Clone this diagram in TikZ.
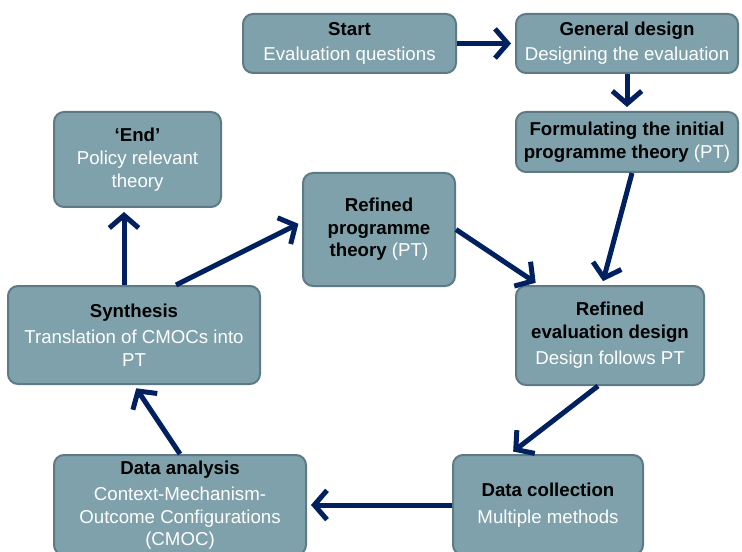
\documentclass[tikz,border=0pt]{standalone}
\usepackage{fontspec}
\setmainfont{Liberation Sans}
\usetikzlibrary{arrows.meta,positioning,calc}
\definecolor{boxfill}{RGB}{127,161,171}
\definecolor{boxline}{RGB}{94,122,132}
\definecolor{arrownavy}{RGB}{0,32,96}
\newcommand{\ttl}[1]{\textcolor{black}{\bfseries #1}}

\begin{document}
\begin{tikzpicture}[x=0.75pt,y=-0.75pt]
 \tikzset{stage node/.style={rectangle, draw=boxline, fill=boxfill,
 		line width=1.5pt, rounded corners=7.5pt, text=white,
 		align=center, inner sep=2pt,
 		font=\fontsize{14}{16.9}\selectfont}, }
 \tikzset{size/.style 2 args={minimum width=#1*0.75pt,
 		minimum height=#2*0.75pt}, }
 \tikzset{linea/.style={-{Straight Barb[length=9.5pt,width=22pt]},
 		draw=arrownavy, line width=3.75pt, shorten >=3pt},}
 \useasboundingbox (0,0) rectangle (742,552);
 \clip (0,0) rectangle (742,552);
 \node[stage node, size={213}{59}] (start) at (349.5,43.5)
 	{\ttl{Start}\\[2pt]Evaluation questions};
 \node[stage node, size={222}{59}] (general) at (627,43.5)
 	{\ttl{General design}\\[2pt]Designing the evaluation};
 \node[stage node, size={222}{60}] (formulating) at (627,142)
 	{\ttl{Formulating the initial}\\\ttl{programme theory} (PT)};
 \node[stage node, size={167}{95}] (end) at (137.5,159.5)
 	{\ttl{`End'}\\[1pt]Policy relevant\\theory};
 \node[stage node, size={152}{113}] (refpt) at (379,229.5)
 	{\ttl{Refined}\\\ttl{programme}\\\ttl{theory} (PT)};
 \node[stage node, size={188}{99}] (evaldesign) at (610,335.5)
 	{\ttl{Refined}\\\ttl{evaluation design}\\[3pt]Design follows PT};
 \node[stage node, size={252}{98}] (synthesis) at (134,335)
 	{\ttl{Synthesis}\\[3pt]Translation of CMOCs into\\PT};
 \node[stage node, size={252}{100}] (analysis) at (180,505)
 	{\ttl{Data analysis}\\[3pt]Context-Mechanism-\\Outcome Configurations\\(CMOC)};
 \node[stage node, size={190}{100}] (collection) at (548,505)
 	{\ttl{Data collection}\\[3pt]Multiple methods};
 % cycle
 \draw[linea] (start) -- (general);
 \draw[linea] (general) -- (formulating);
 \draw[linea] ($(formulating.south)+(5,0)$) -- ($(evaldesign.north)+(-8,0)$);
 \draw[linea] (refpt.east) -- ($(evaldesign.north west)+(24,0)$);
 \draw[linea] ($(evaldesign.south)+(-12,0)$) -- ($(collection.north west)+(58,0)$);
 \draw[linea] (collection) -- (analysis);
 \draw[linea] (analysis.north) -- (synthesis.south);
 \draw[linea] ($(synthesis.north)+(-10,0)$) -- ($(end.south)+(-13.5,0)$);
 \draw[linea] ($(synthesis.north)+(42,0)$) -- ($(refpt.west)+(0,-7.5)$);
 % 
\end{tikzpicture}
\end{document}
